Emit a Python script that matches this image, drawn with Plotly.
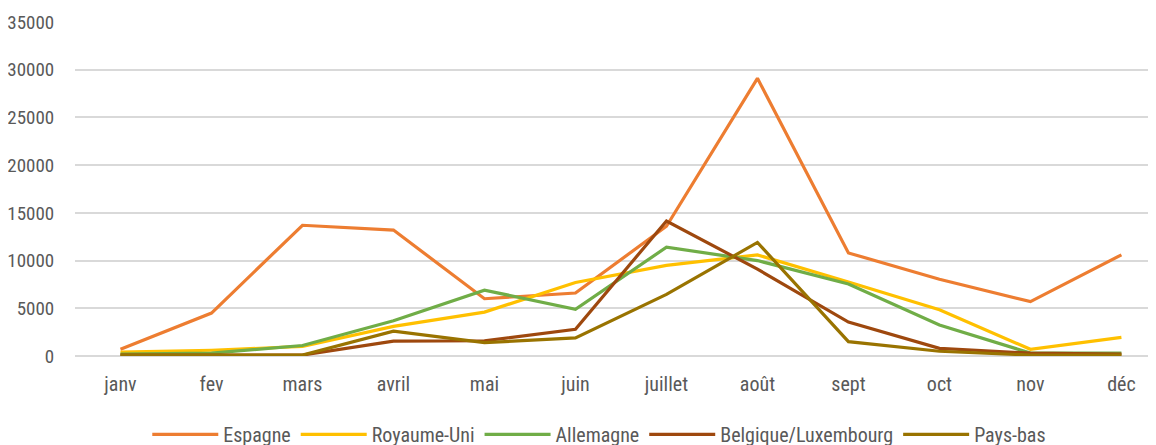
import plotly.graph_objects as go

months = ["janv", "fev", "mars", "avril", "mai", "juin", "juillet", "août", "sept", "oct", "nov", "déc"]
espagne = [700, 4500, 13700, 13200, 6000, 6600, 13600, 29100, 10800, 8050, 5700, 10600]
royaume_uni = [400, 600, 1000, 3100, 4600, 7700, 9500, 10600, 7750, 4850, 700, 1950]
allemagne = [200, 300, 1100, 3700, 6900, 4900, 11400, 10000, 7550, 3250, 300, 300]
belgique_lux = [100, 100, 100, 1550, 1600, 2800, 14150, 9100, 3550, 800, 300, 200]
pays_bas = [100, 100, 100, 2600, 1400, 1900, 6450, 11900, 1500, 500, 100, 100]

series = [
    ("Espagne", espagne, "#ED7D31"),
    ("Royaume-Uni", royaume_uni, "#FFC000"),
    ("Allemagne", allemagne, "#70AD47"),
    ("Belgique/Luxembourg", belgique_lux, "#9E480E"),
    ("Pays-bas", pays_bas, "#997300"),
]

FONT = "Roboto Condensed, Liberation Sans Narrow, sans-serif"

fig = go.Figure()
for name, vals, color in series:
    fig.add_trace(go.Scatter(
        x=list(range(len(months))), y=vals, name=name, mode="lines",
        line=dict(color=color, width=3.2),
    ))

fig.update_layout(
    width=1148, height=437,
    margin=dict(l=67, r=0, t=14, b=89, autoexpand=False),
    paper_bgcolor="white", plot_bgcolor="white",
    font=dict(family=FONT, size=20, color="#595959"),
    showlegend=True,
    legend=dict(orientation="h", x=0.485, xanchor="center", yref="container", y=0.069,
                yanchor="top", font=dict(size=20, color="#595959"),
                itemwidth=66, tracegroupgap=0),
    xaxis=dict(
        tickmode="array", tickvals=list(range(len(months))), ticktext=months,
        range=[-0.5, 11.38], showgrid=False, zeroline=False, showline=False,
        ticks="outside", ticklen=10, tickcolor="rgba(0,0,0,0)", automargin=False,
    ),
    yaxis=dict(
        range=[0, 35000], dtick=5000, tickformat="d", tickfont=dict(size=19),
        showgrid=True, gridcolor="#D9D9D9", gridwidth=1.5,
        zeroline=True, zerolinecolor="#D9D9D9", zerolinewidth=1.5,
        showline=False, ticks="outside", ticklen=16, tickcolor="rgba(0,0,0,0)", automargin=False,
    ),
)

fig.write_html("out.html")
